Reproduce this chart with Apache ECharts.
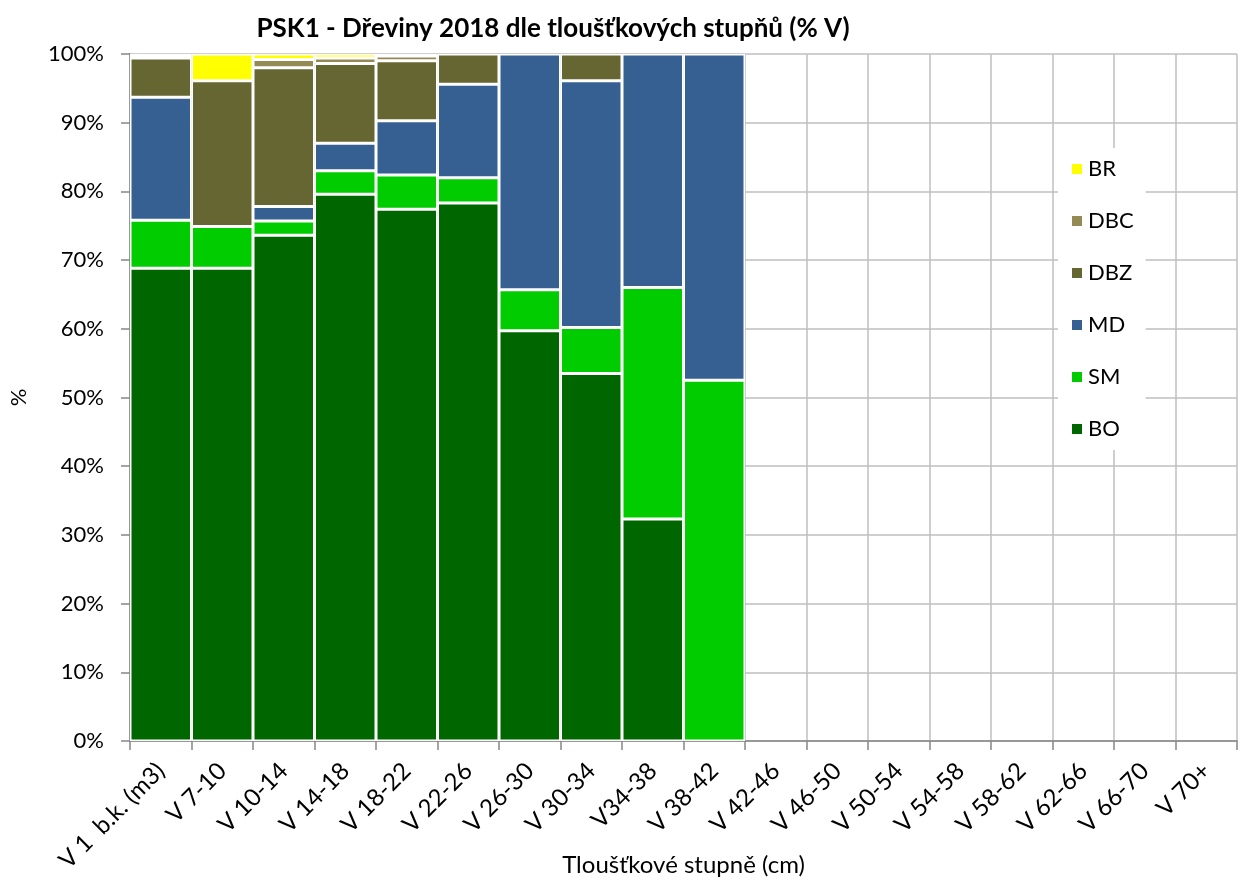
<!DOCTYPE html>
<html>
<head>
<meta charset="utf-8">
<title>PSK1 - Dřeviny 2018</title>
<script src="https://cdn.jsdelivr.net/npm/echarts@6/dist/echarts.min.js"></script>
<style>
  html, body { margin: 0; padding: 0; background: #fff; }
  #chart { width: 1240px; height: 882px; }
</style>
</head>
<body>
<div id="chart"></div>
<script>
// tloušťkové stupně
const categories = [
  "V 1  b.k. (m3)", "V 7-10", "V 10-14", "V 14-18", "V 18-22", "V 22-26",
  "V 26-30", "V 30-34", "V34-38", "V 38-42", "V 42-46", "V 46-50",
  "V 50-54", "V 54-58", "V 58-62", "V 62-66", "V 66-70", "V 70+"
];
const yTicks = [0, 10, 20, 30, 40, 50, 60, 70, 80, 90, 100];

// % V per species
const BO  = [68.8, 68.8, 73.6, 79.6, 77.4, 78.3, 59.7, 53.5, 32.3, null, null, null, null, null, null, null, null, null];
const SM  = [7.0, 6.1, 2.1, 3.4, 5.0, 3.7, 6.0, 6.7, 33.7, 52.5, null, null, null, null, null, null, null, null];
const MD  = [17.9, null, 2.1, 4.0, 7.9, 13.6, 34.3, 35.9, 34.0, 47.5, null, null, null, null, null, null, null, null];
const DBZ = [5.7, 21.2, 20.2, 11.6, 8.7, 4.4, null, 3.9, null, null, null, null, null, null, null, null, null, null];
const DBC = [0.3, null, 1.2, 0.8, 0.7, null, null, null, null, null, null, null, null, null, null, null, null, null];
const BR  = [0.3, 3.9, 0.8, 0.6, 0.3, null, null, null, null, null, null, null, null, null, null, null, null, null];

const FONT = "Lato, 'Open Sans', sans-serif";
const AXIS_GRAY = "#868686";
const GRID_GRAY = "#bfbfbf";

function bar(name, data, color) {
  return {
    name: name,
    type: "bar",
    stack: "total",
    data: data,
    barCategoryGap: "0%",
    itemStyle: { color: color, borderColor: "#ffffff", borderWidth: 1.5 },
    emphasis: { disabled: true }
  };
}

const chart = echarts.init(document.getElementById("chart"), null, { renderer: "canvas" });
chart.setOption({
  animation: false,
  textStyle: { fontFamily: FONT },
  title: {
    text: "PSK1 - Dřeviny 2018 dle tloušťkových stupňů (% V)",
    left: 548,
    top: 11,
    textAlign: "center",
    textStyle: { fontFamily: FONT, fontSize: 26, fontWeight: "bold", color: "#000" }
  },
  grid: { left: 130, right: 3, top: 54, bottom: 141, containLabel: false, outerBoundsMode: "none" },
  legend: {
    data: ["BR", "DBC", "DBZ", "MD", "SM", "BO"],
    orient: "vertical",
    left: 1058,
    top: 148,
    padding: [10, 12, 10, 12],
    backgroundColor: "#ffffff",
    icon: "rect",
    itemWidth: 12,
    itemHeight: 12,
    itemGap: 30,
    textStyle: { fontFamily: FONT, fontSize: 22, color: "#000" }
  },
  xAxis: {
    type: "category",
    data: categories,
    boundaryGap: true,
    name: "Tloušťkové stupně (cm)",
    nameLocation: "middle",
    nameGap: 112,
    nameMoveOverlap: false,
    nameTextStyle: { fontFamily: FONT, fontSize: 24, color: "#000" },
    axisLine: { lineStyle: { color: AXIS_GRAY, width: 1.5 } },
    axisTick: { show: true, alignWithLabel: false, length: 9, lineStyle: { color: AXIS_GRAY, width: 1.5 } },
    axisLabel: { rotate: 45, margin: 26, interval: 0, fontFamily: FONT, fontSize: 24, color: "#000" },
    splitLine: { show: true, lineStyle: { color: GRID_GRAY, width: 1.5 } }
  },
  yAxis: {
    type: "value",
    min: yTicks[0],
    max: yTicks[yTicks.length - 1],
    interval: 10,
    name: "%",
    nameLocation: "middle",
    nameGap: 100,
    nameRotate: 90,
    nameTextStyle: { fontFamily: FONT, fontSize: 22, color: "#000" },
    axisLine: { show: true, lineStyle: { color: AXIS_GRAY, width: 1.5 } },
    axisTick: { show: true, length: 9, lineStyle: { color: AXIS_GRAY, width: 1.5 } },
    axisLabel: { formatter: "{value}%", margin: 26, fontFamily: FONT, fontSize: 22, color: "#000" },
    splitLine: { show: true, lineStyle: { color: GRID_GRAY, width: 1.5 } }
  },
  series: [
    bar("BO", BO, "#006600"),
    bar("SM", SM, "#00cc00"),
    bar("MD", MD, "#366092"),
    bar("DBZ", DBZ, "#666633"),
    bar("DBC", DBC, "#948b54"),
    bar("BR", BR, "#ffff00")
  ]
});
</script>
</body>
</html>
